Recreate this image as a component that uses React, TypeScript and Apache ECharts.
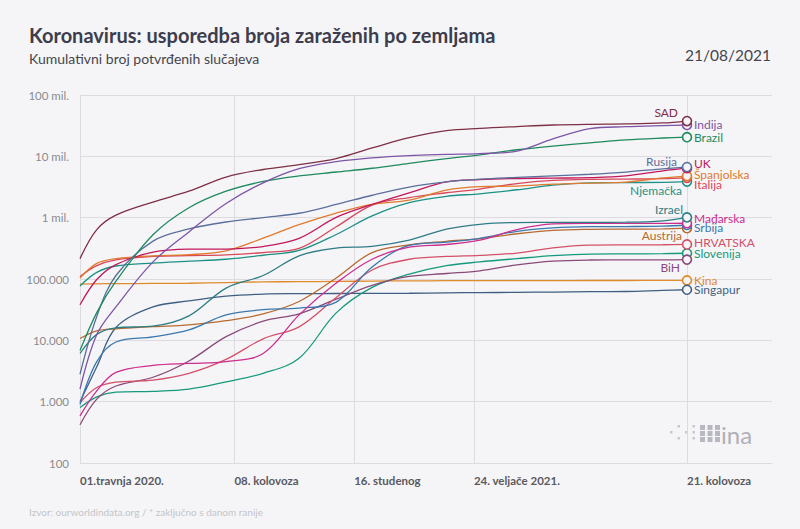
import React, { useEffect, useRef } from "react";
import * as echarts from "echarts";

// ---------- DATA ----------
const dates = [
  "2020-04-01", "2020-04-15", "2020-05-01", "2020-06-01", "2020-07-01", "2020-08-01",
  "2020-09-01", "2020-10-01", "2020-11-01", "2020-12-01", "2021-01-01", "2021-02-01",
  "2021-03-01", "2021-04-01", "2021-05-01", "2021-06-01", "2021-07-01", "2021-08-01",
  "2021-08-21",
];

const sad = [215000, 640000, 1100000, 1800000, 2700000, 4600000, 6100000, 7300000, 9200000, 13700000, 20100000, 26200000, 28600000, 30600000, 32400000, 33300000, 33700000, 35000000, 37600000];
const indija = [1600, 12400, 35000, 190000, 585000, 1700000, 3700000, 6300000, 8200000, 9460000, 10300000, 10760000, 11100000, 12200000, 19200000, 28200000, 30400000, 31700000, 32400000];
const brazil = [6800, 28300, 92000, 527000, 1450000, 2700000, 3900000, 4800000, 5550000, 6390000, 7700000, 9200000, 10600000, 12800000, 14700000, 16600000, 18600000, 19900000, 20500000];
const rusija = [2800, 24500, 114000, 415000, 654000, 850000, 1000000, 1180000, 1640000, 2320000, 3160000, 3840000, 4260000, 4540000, 4800000, 5100000, 5540000, 6260000, 6700000];
const uk = [38000, 98000, 172000, 274000, 306000, 308000, 338000, 460000, 1010000, 1640000, 2540000, 3830000, 4180000, 4350000, 4420000, 4490000, 4800000, 5800000, 6400000];
const spanjolska = [104000, 180000, 215000, 239000, 249000, 288000, 463000, 770000, 1190000, 1650000, 1930000, 2820000, 3200000, 3280000, 3520000, 3670000, 3800000, 4450000, 4770000];
const italija = [110000, 165000, 205000, 233000, 241000, 248000, 270000, 315000, 710000, 1600000, 2130000, 2550000, 2930000, 3600000, 4040000, 4220000, 4260000, 4320000, 4460000];
const njemacka = [77000, 128000, 163000, 182000, 195000, 210000, 244000, 292000, 532000, 1070000, 1760000, 2230000, 2450000, 2850000, 3390000, 3690000, 3730000, 3770000, 3870000];
const izrael = [6100, 12500, 16000, 17000, 25000, 71000, 114000, 239000, 318000, 340000, 430000, 650000, 780000, 833000, 838000, 839000, 844000, 889000, 1010000];
const madarska = [585, 1500, 3000, 3900, 4200, 4500, 6100, 26000, 86000, 210000, 330000, 365000, 430000, 640000, 790000, 806000, 808000, 809000, 811000];
const srbija = [900, 4500, 9400, 11400, 14800, 26000, 31600, 33500, 42000, 157000, 352000, 400000, 460000, 600000, 680000, 712000, 716000, 727000, 760000];
const austrija = [10700, 14300, 15400, 16700, 17900, 20900, 27000, 43000, 104000, 270000, 360000, 412000, 456000, 547000, 620000, 645000, 650000, 657000, 673000];
const hrvatska = [963, 1700, 2080, 2250, 2900, 4900, 10600, 16600, 50000, 140000, 210000, 233000, 243000, 265000, 322000, 356000, 360000, 362000, 366000];
const slovenija = [802, 1200, 1430, 1470, 1600, 2100, 2900, 5100, 28000, 73000, 120000, 165000, 190000, 215000, 240000, 255000, 257000, 259000, 263000];
const bih = [420, 1100, 1800, 2500, 4600, 11500, 20500, 27000, 47000, 79000, 110000, 123000, 136000, 170000, 196000, 204000, 205000, 205000, 207000];
const kina = [82300, 83400, 84000, 84600, 85200, 87500, 89700, 90500, 91400, 92500, 93200, 93800, 94000, 94200, 94300, 94500, 94600, 94800, 95000];
const singapur = [1000, 3700, 16200, 35000, 43900, 52500, 56800, 57700, 58000, 58200, 58600, 59500, 60000, 60500, 61300, 62100, 62600, 65300, 66800];

const tickDates = ["2020-04-01", "2020-08-08", "2020-11-16", "2021-02-24", "2021-08-21"];
const tickLabels = ["01.travnja 2020.", "08. kolovoza", "16. studenog", "24. veljače 2021.", "21. kolovoza"];
const xMinDate = "2020-04-01";
const xMaxDate = "2021-10-31";

// ---------- STYLE CONFIG ----------
const BG = "#f5f5f7";
const FONT = "Lato, 'Noto Sans', sans-serif";

// side: which side of the end circle the name sits; nudge: label offset in px from the circle
type Cfg = { name: string; data: number[]; color: string; side: "left" | "right"; nudge: [number, number] };
const countries: Cfg[] = [
  { name: "Kina", data: kina, color: "#e08a2c", side: "right", nudge: [7, 0] },
  { name: "Singapur", data: singapur, color: "#3f5f82", side: "right", nudge: [7, 0] },
  { name: "Slovenija", data: slovenija, color: "#169a7c", side: "right", nudge: [7, 0] },
  { name: "BiH", data: bih, color: "#8a4a78", side: "left", nudge: [-7, 8] },
  { name: "HRVATSKA", data: hrvatska, color: "#d4506a", side: "right", nudge: [7, -1.5] },
  { name: "Austrija", data: austrija, color: "#b86a30", side: "left", nudge: [-5, 7] },
  { name: "Srbija", data: srbija, color: "#3a78ae", side: "right", nudge: [7, 3] },
  { name: "Mađarska", data: madarska, color: "#cc2e8e", side: "right", nudge: [7, -5] },
  { name: "Izrael", data: izrael, color: "#2e7d84", side: "left", nudge: [-4, -7.5] },
  { name: "Njemačka", data: njemacka, color: "#1d9186", side: "left", nudge: [-5, 8.5] },
  { name: "Italija", data: italija, color: "#d9475b", side: "right", nudge: [7, 7] },
  { name: "Španjolska", data: spanjolska, color: "#e07a2e", side: "right", nudge: [7, -2] },
  { name: "UK", data: uk, color: "#c2185b", side: "right", nudge: [7, -5] },
  { name: "Rusija", data: rusija, color: "#5b6f9c", side: "left", nudge: [-10, -6] },
  { name: "Brazil", data: brazil, color: "#1e8a5e", side: "right", nudge: [7, 0] },
  { name: "Indija", data: indija, color: "#7d55a6", side: "right", nudge: [7, -1] },
  { name: "SAD", data: sad, color: "#7f2f45", side: "left", nudge: [-9, -9] },
];

// days since the axis start (UTC-safe)
function dayIndex(d: string): number {
  const [y, m, dd] = d.split("-").map(Number);
  const [y0, m0, d0] = xMinDate.split("-").map(Number);
  return Math.round((Date.UTC(y, m - 1, dd) - Date.UTC(y0, m0 - 1, d0)) / 86400000);
}

function yLabel(v: number): string {
  if (v >= 1e6) return `${Math.round(v / 1e6)} mil.`;
  return Math.round(v).toString().replace(/\B(?=(\d{3})+(?!\d))/g, ".");
}

export default function App() {
  const ref = useRef<HTMLDivElement>(null);

  useEffect(() => {
    if (!ref.current) return;
    const chart = echarts.init(ref.current, undefined, { renderer: "svg" });
    const tickDays = tickDates.map(dayIndex);

    const series: any[] = countries.map((c, ci) => {
      const pts: any[] = c.data.map((v, i) => {
        const item: any = { value: [dayIndex(dates[i]), v] };
        if (i === c.data.length - 1) {
          item.symbol = "circle";
          item.symbolSize = 9;
          item.itemStyle = { color: BG, borderColor: c.color, borderWidth: 1.6 };
        }
        return item;
      });
      const s: any = {
        type: "line",
        name: c.name,
        data: pts,
        symbol: "none",
        showSymbol: true,
        smooth: 0.35,
        lineStyle: { color: c.color, width: 1.3 },
        itemStyle: { color: c.color },
        z: 3,
      };
      if (ci === 0) {
        s.markLine = {
          silent: true,
          symbol: "none",
          label: { show: false },
          lineStyle: { color: "#dcdce0", width: 1, type: "solid" },
          data: tickDays.slice(1).map((t) => ({ xAxis: t })),
          z: 1,
        };
      }
      return s;
    });

    // "ina" logo dots
    const dots: any[] = [];
    const pattern = [
      [0, 1, 0, 1, 1, 1, 1],
      [1, 0, 1, 1, 1, 1, 1],
      [0, 1, 0, 1, 1, 1, 1],
    ];
    pattern.forEach((row, r) =>
      row.forEach((on, c) => {
        if (!on) return;
        const big = c >= 4;
        const s = big ? 5 : 2.5;
        dots.push({
          type: "rect",
          shape: { x: 670 + c * 7.5, y: 425 + r * 6, width: s, height: s },
          style: { fill: big ? "#b8b8c0" : "#c8c8cf" },
          silent: true,
        });
      })
    );

    const baseGraphic: any[] = [
      {
        type: "text",
        x: 29,
        y: 35,
        style: {
          text: "Koronavirus: usporedba broja zaraženih po zemljama",
          fill: "#3d3d4d",
          font: `bold 20px ${FONT}`,
          textVerticalAlign: "middle",
        },
      },
      {
        type: "text",
        x: 29,
        y: 58,
        style: {
          text: "Kumulativni broj potvrđenih slučajeva",
          fill: "#45454f",
          font: `14px ${FONT}`,
          textVerticalAlign: "middle",
        },
      },
      {
        type: "text",
        x: 771,
        y: 55,
        style: {
          text: "21/08/2021",
          fill: "#45454f",
          font: `15.5px ${FONT}`,
          textAlign: "right",
          textVerticalAlign: "middle",
        },
      },
      {
        type: "text",
        x: 29,
        y: 512,
        style: {
          text: "Izvor: ourworldindata.org / * zaključno s danom ranije",
          fill: "#c4c4ca",
          font: `10px ${FONT}`,
          textVerticalAlign: "middle",
        },
      },
      ...dots,
      {
        type: "text",
        x: 721,
        y: 434,
        style: {
          text: "ina",
          fill: "#b0b0b8",
          font: `24px ${FONT}`,
          textVerticalAlign: "middle",
        },
      },
    ];

    chart.setOption({
      animation: false,
      backgroundColor: BG,
      grid: { left: 80, right: 28, top: 95, bottom: 66, containLabel: false },
      xAxis: {
        type: "value",
        min: 0,
        max: dayIndex(xMaxDate),
        axisLine: { show: true, lineStyle: { color: "#dcdce0" } },
        axisTick: { show: false },
        splitLine: { show: false },
        axisLabel: {
          customValues: tickDays,
          align: "left",
          margin: 11,
          color: "#5a5a60",
          fontFamily: FONT,
          fontSize: 11.5,
          fontWeight: "bold",
          formatter: (v: number) => {
            const i = tickDays.indexOf(Math.round(v));
            return i >= 0 ? tickLabels[i] : "";
          },
        },
      },
      yAxis: {
        type: "log",
        logBase: 10,
        min: 100,
        max: 1e8,
        axisLine: { show: true, lineStyle: { color: "#dcdce0" } },
        axisTick: { show: false },
        splitLine: { show: true, lineStyle: { color: "#dcdce0" } },
        axisLabel: {
          margin: 11,
          color: "#8a8a90",
          fontFamily: FONT,
          fontSize: 11.5,
          formatter: (v: number) => yLabel(v),
        },
      },
      graphic: baseGraphic,
      series,
    });

    // end-of-line country names, placed next to each end circle
    const nameLabels: any[] = countries.map((c) => {
      const last = c.data.length - 1;
      const p = chart.convertToPixel({ gridIndex: 0 }, [dayIndex(dates[last]), c.data[last]]) as number[];
      return {
        type: "text",
        x: p[0] + c.nudge[0],
        y: p[1] + c.nudge[1],
        z: 10,
        style: {
          text: c.name,
          fill: c.color,
          font: `12px ${FONT}`,
          textAlign: c.side === "left" ? "right" : "left",
          textVerticalAlign: "middle",
        },
      };
    });

    chart.setOption({ graphic: [...baseGraphic, ...nameLabels] }, { replaceMerge: ["graphic"] });

    return () => chart.dispose();
  }, []);

  return (
    <div
      ref={ref}
      style={{ position: "fixed", left: 0, top: 0, width: 800, height: 529, background: BG }}
    />
  );
}
